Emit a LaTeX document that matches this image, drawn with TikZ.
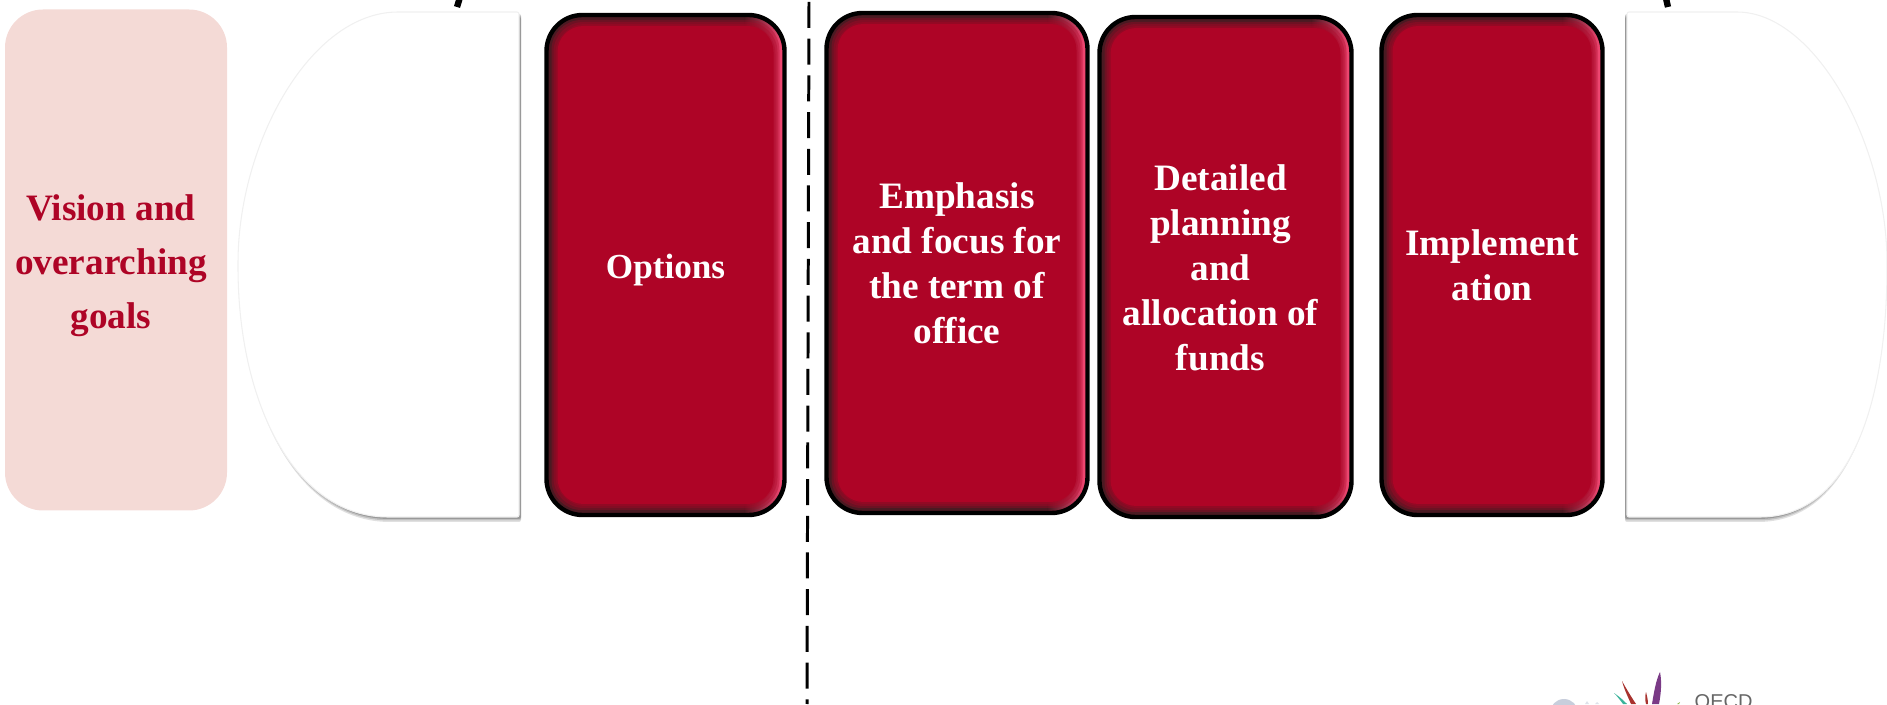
\documentclass[tikz,border=0pt]{standalone}
\usepackage{fontspec}
\setmainfont{Liberation Serif}
\newfontfamily\logofont{Liberation Sans}
\usetikzlibrary{shadows}
\definecolor{boxred}{HTML}{AE0426}
\definecolor{boxpink}{HTML}{F4DAD6}
\definecolor{edgedark}{HTML}{4A1A22}
\definecolor{edgelight}{HTML}{FF4A78}
\definecolor{logogray}{HTML}{C8CEDC}
\definecolor{logopurple}{HTML}{7A3A86}
\definecolor{logored}{HTML}{A8322E}
\definecolor{logoteal}{HTML}{3BB39A}
\definecolor{logogreen}{HTML}{8DB84A}
\tikzset{
	boxtext/.style={font=\bfseries\fontsize{10.6}{12.8}\selectfont, align=center, inner sep=0pt, text=white},
	visiontext/.style={boxtext, text=boxred, font=\bfseries\fontsize{10.6}{15.4}\selectfont},
	pinkbox/.style={fill=boxpink, rounded corners=0.38cm, inner sep=0pt},
	redbox/.style={draw=black, line width=1.25pt, fill=boxred, rounded corners=0.36cm, inner sep=0pt,
		path picture={
			\fill[sharp corners, edgedark] (path picture bounding box.south west) rectangle (path picture bounding box.north east);
			\shade[sharp corners, left color=edgedark, right color=edgelight] ([xshift=-0.4cm]path picture bounding box.south east) rectangle (path picture bounding box.north east);
			\foreach \d in {0.05,0.07,0.09}
				\fill[boxred, opacity=0.35, rounded corners=0.3cm] ([shift={(\d,\d)}]path picture bounding box.south west) rectangle ([shift={(-\d,-\d)}]path picture bounding box.north east);
			\fill[boxred, rounded corners=0.26cm] ([shift={(0.11,0.11)}]path picture bounding box.south west) rectangle ([shift={(-0.11,-0.11)}]path picture bounding box.north east);
		}},
	whiteshape/.style={fill=white, draw=black!6, line width=0.3pt, rounded corners=0.02cm,
		drop shadow={shadow xshift=#1, shadow yshift=-0.05cm, fill=black, opacity=0.12},
		drop shadow={shadow xshift=#1, shadow yshift=-0.035cm, fill=black, opacity=0.15},
		drop shadow={shadow xshift=#1, shadow yshift=-0.02cm, fill=black, opacity=0.2}},
}
\begin{document}
\begin{tikzpicture}
	\useasboundingbox (0,0) rectangle (18.87,7.04);
	\clip (0,0) rectangle (18.87,7.04);
	% side shapes
	\draw[whiteshape=0.02cm] (5.19,6.92) -- (4.00,6.92) .. controls (3.10,6.92) and (2.38,5.60) .. (2.38,4.39) .. controls (2.38,3.00) and (2.95,1.87) .. (3.90,1.87) -- (5.19,1.87) -- cycle;
	\draw[whiteshape=-0.02cm] (16.27,6.92) -- (17.35,6.92) .. controls (18.15,6.92) and (18.87,5.60) .. (18.87,4.39) .. controls (18.87,3.00) and (18.50,1.87) .. (17.58,1.87) -- (16.27,1.87) -- cycle;
	% boxes
	\node[pinkbox, minimum width=2.22cm, minimum height=5.01cm] (vision) at (1.16,4.44) {};
	\node[redbox, minimum width=2.38cm, minimum height=5.00cm] (options) at (6.655,4.39) {};
	\node[redbox, minimum width=2.61cm, minimum height=5.00cm] (emphasis) at (9.57,4.41) {};
	\node[redbox, minimum width=2.52cm, minimum height=5.00cm] (planning) at (12.255,4.37) {};
	\node[redbox, minimum width=2.21cm, minimum height=5.00cm] (implementation) at (14.92,4.39) {};
	% box texts
	\node[visiontext] (visionlabel) at ([shift={(-0.05,-0.06)}]vision.center) {Vision and\\overarching\\goals};
	\node[boxtext, font=\bfseries\fontsize{10}{12.8}\selectfont] (optionslabel) at ([yshift=-0.05cm]options.center) {Options};
	\node[boxtext] (emphasislabel) at (emphasis.center) {Emphasis\\and focus for\\the term of\\office};
	\node[boxtext] (planninglabel) at ([shift={(-0.05,-0.01)}]planning.center) {Detailed\\planning\\and\\allocation of\\funds};
	\node[boxtext] (implementationlabel) at (implementation.center) {Implement\\ation};
	% dashed divider
	\draw[line width=0.85pt, dash pattern=on 0.26cm off 0.107cm] (8.09,7.02) -- (8.07,0);
	% stubs from the top
	\draw[line width=1.8pt] (4.61,7.10) -- (4.57,6.97);
	\draw[line width=1.8pt] (16.65,7.10) -- (16.68,6.97);
	% logo
	\fill[logogray] (15.64,-0.09) circle (0.14);
	\fill[logogray!60] (15.85,0) -- (15.87,0.03) -- (15.89,0) -- cycle;
	\fill[logogray!60] (15.95,0) -- (15.97,0.02) -- (15.99,0) -- cycle;
	\fill[logoteal] (16.14,0.11) .. controls (16.20,0.07) and (16.24,0.03) .. (16.27,0) -- (16.23,0) .. controls (16.20,0.04) and (16.17,0.08) .. cycle;
	\fill[logored] (16.22,0.23) .. controls (16.27,0.14) and (16.32,0.06) .. (16.36,0) -- (16.31,0) .. controls (16.28,0.07) and (16.24,0.15) .. cycle;
	\fill[logored] (16.46,0.12) .. controls (16.47,0.08) and (16.48,0.04) .. (16.48,0) -- (16.46,0) .. controls (16.45,0.04) and (16.45,0.08) .. cycle;
	\fill[logopurple] (16.60,0.32) .. controls (16.62,0.22) and (16.61,0.10) .. (16.59,0) -- (16.52,0) .. controls (16.54,0.12) and (16.56,0.24) .. cycle;
	\fill[logogreen] (16.80,0.02) -- (16.77,0) -- (16.79,0) -- cycle;
	\node[font=\logofont\fontsize{5.7}{5.7}\selectfont, text=black!60, anchor=base west, inner sep=0pt] (oecd) at (16.94,-0.04) {OECD};
\end{tikzpicture}
\end{document}
